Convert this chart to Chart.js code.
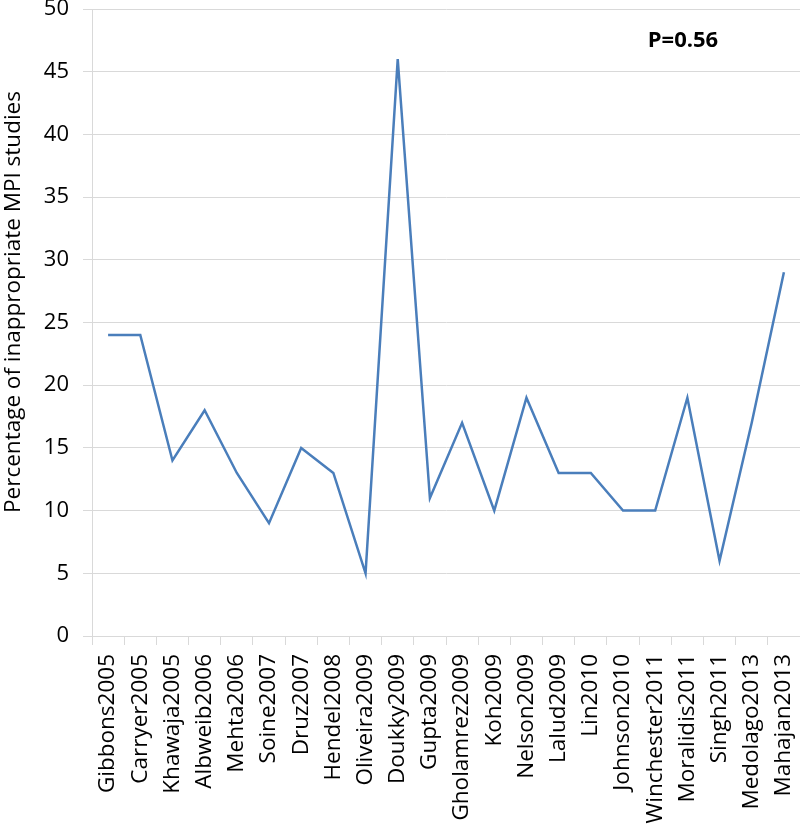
<!DOCTYPE html>
<html>
<head>
<meta charset="utf-8">
<script src="https://cdn.jsdelivr.net/npm/chart.js@4"></script>
<style>
  html, body { margin: 0; padding: 0; background: #ffffff; }
  #wrap { width: 800px; height: 825px; position: relative; }
</style>
</head>
<body>
<div id="wrap"><canvas id="c"></canvas></div>
<script>
const categories = ["Gibbons2005","Carryer2005","Khawaja2005","Albweib2006","Mehta2006","Soine2007","Druz2007","Hendel2008","Oliveira2009","Doukky2009","Gupta2009","Gholamrez2009","Koh2009","Nelson2009","Lalud2009","Lin2010","Johnson2010","Winchester2011","Moralidis2011","Singh2011","Medolago2013","Mahajan2013"];
const values = [24, 24, 14, 18, 13, 9, 15, 13, 5, 46, 11, 17, 10, 19, 13, 13, 10, 10, 19, 6, 17, 29];
const yTicks = [0, 5, 10, 15, 20, 25, 30, 35, 40, 45, 50];
const yTitle = "Percentage of inappropriate MPI studies";
const annotationText = "P=0.56";

const FONT = "'Open Sans', 'Noto Sans', sans-serif";
const GRID = "#d9d9d9";

const overlay = {
  id: 'overlay',
  afterDraw(chart) {
    const ctx = chart.ctx;
    ctx.save();
    ctx.fillStyle = '#000000';
    ctx.font = "bold 22px " + FONT;
    ctx.textAlign = 'center';
    ctx.textBaseline = 'middle';
    ctx.fillText(annotationText, 683, 41);
    ctx.restore();

    ctx.save();
    ctx.translate(14, 302);
    ctx.rotate(-Math.PI / 2);
    ctx.fillStyle = '#000000';
    ctx.font = "22.5px " + FONT;
    ctx.textAlign = 'center';
    ctx.textBaseline = 'middle';
    ctx.fillText(yTitle, 0, 0);
    ctx.restore();
  }
};

new Chart(document.getElementById('c'), {
  type: 'line',
  data: {
    labels: categories,
    datasets: [{
      data: values,
      borderColor: '#4a7ebb',
      borderWidth: 2.5,
      pointRadius: 0,
      pointHoverRadius: 0,
      tension: 0,
      fill: false
    }]
  },
  options: {
    responsive: true,
    maintainAspectRatio: false,
    animation: false,
    layout: { padding: { top: 9, right: 0, left: 0, bottom: 0 } },
    plugins: { legend: { display: false }, tooltip: { enabled: false } },
    scales: {
      x: {
        type: 'category',
        offset: true,
        grid: { display: true, offset: true, drawOnChartArea: false, color: GRID, tickLength: 9 },
        border: { display: true, color: GRID, width: 1 },
        ticks: {
          color: '#000000',
          font: { family: FONT, size: 22.5 },
          minRotation: 90, maxRotation: 90,
          autoSkip: false,
          padding: 9
        },
        afterFit(scale) {
          scale.height = 189;
          scale.paddingLeft = 0; scale.paddingRight = 0;
        }
      },
      y: {
        min: 0, max: 50,
        afterBuildTicks(scale) { scale.ticks = yTicks.map(v => ({ value: v })); },
        grid: { color: GRID, tickLength: 9 },
        border: { display: true, color: GRID, width: 1 },
        ticks: {
          color: '#000000',
          font: { family: FONT, size: 22 },
          padding: 14
        },
        afterFit(scale) {
          scale.width = 92;
          scale.paddingTop = 0; scale.paddingBottom = 0;
        }
      }
    }
  },
  plugins: [overlay]
});
</script>
</body>
</html>
